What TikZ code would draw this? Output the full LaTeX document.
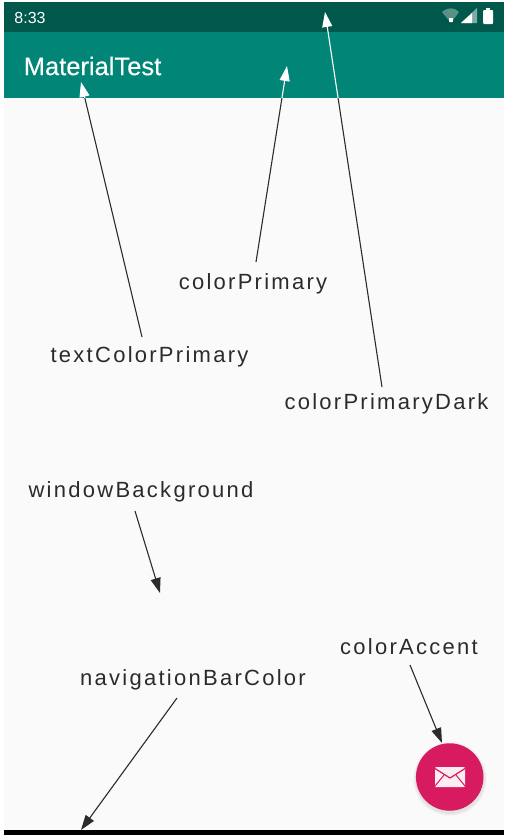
\documentclass[tikz,border=0pt]{standalone}
\usepackage{fontspec}
\setmainfont{Liberation Sans}
\newfontfamily\attrfont[LetterSpace=10.3]{Liberation Sans}
\newfontfamily\titlefont[FakeBold=0.25]{Liberation Sans}
\usetikzlibrary{arrows.meta}
\definecolor{primary}{HTML}{008577}
\definecolor{primarydark}{HTML}{00574B}
\definecolor{accent}{HTML}{D81B60}
\definecolor{window}{HTML}{FAFAFA}
\definecolor{ink}{HTML}{2B2B2B}
\tikzstyle{attr}=[inner sep=0pt, text=ink, text height=15pt, text depth=5pt, font=\attrfont\fontsize{22}{22}\selectfont]
\tikzstyle{pointer}=[line width=1.1pt, -{Triangle[length=15pt, width=10pt]}]
\newcommand{\attr}{\node[attr]}
\begin{document}
\begin{tikzpicture}[x=1pt, y=-1pt]
\useasboundingbox (0,0) rectangle (504,835);
%screen
\fill[white] (0,0) rectangle (504,835);
\fill[window] (4,98) rectangle (504,830);
\fill[primarydark] (4,2) rectangle (504,32);
\fill[primary] (4,32) rectangle (504,98);
\fill[black] (4,830) rectangle (504,835);
%status bar
\node[inner sep=0pt, text=white, font=\fontsize{16}{16}\selectfont] (clock) at (30,17.5){8:33};
\fill[white, opacity=0.35] (442,12) .. controls (448,7) and (454,7) .. (459,12) -- (451,23) -- cycle;
\fill[white] (449,18) rectangle (453,22);
\fill[white, opacity=0.5] (477,8) -- (477,23) -- (461,23) -- cycle;
\fill[white] (472,13) -- (472,23) -- (461,23) -- cycle;
\fill[white, rounded corners=1pt] (483,10) rectangle (493,24);
\fill[white] (486,8) rectangle (490,11);
%app bar
\node[inner sep=0pt, text=white, font=\titlefont\fontsize{25.5}{25.5}\selectfont] (title) at (92.5,66){MaterialTest};
%button
\foreach \r/\o in {37/0.02, 36/0.03, 35/0.04}{
	\fill[black, opacity=\o] (450,779) circle (\r pt);}
\node[circle, fill=accent, inner sep=0pt, minimum size=67.5pt] (fab) at (449.7,777){};
\fill[white, opacity=0.92, rounded corners=1pt] (435,767) rectangle (465,787);
\draw[accent, line width=1.2pt] (435,768.5) -- (450,778) -- (465,768.5);
\draw[accent, line width=1pt] (435,786) -- (444,775) (465,786) -- (456,775);
%attributes
\attr (textColor) at (149.5,357){textColorPrimary};
\attr (colorPrimary) at (253,284){colorPrimary};
\attr (colorDark) at (386.5,404){colorPrimaryDark};
\attr (windowBg) at (141,492){windowBackground};
\attr (navBar) at (193,680){navigationBarColor};
\attr (colorAccent) at (409,649){colorAccent};
%tips
\coordinate (textColorTip) at (81,82);
\coordinate (colorPrimaryTip) at (287,66);
\coordinate (colorDarkTip) at (325,12);
\coordinate (windowBgTip) at (160,593);
\coordinate (navBarTip) at (81,830);
\coordinate (colorAccentTip) at (442,743);
%pointers
\foreach \name/\dx/\dy in {textColor/-7.5/-20, colorPrimary/3/-22, colorDark/-4.5/-17}{
	\draw[pointer, white] ([shift={(\dx,\dy)}]\name.center) -- (\name Tip);
	\begin{scope}
	\clip (0,98) rectangle (504,835);
	\draw[line width=1.1pt, ink] ([shift={(\dx,\dy)}]\name.center) -- (\name Tip);
	\end{scope}}
\foreach \name/\dx/\dy in {windowBg/-6/19, navBar/-16/18, colorAccent/1/16}{
	\draw[pointer, ink] ([shift={(\dx,\dy)}]\name.center) -- (\name Tip);}
\end{tikzpicture}
\end{document}
